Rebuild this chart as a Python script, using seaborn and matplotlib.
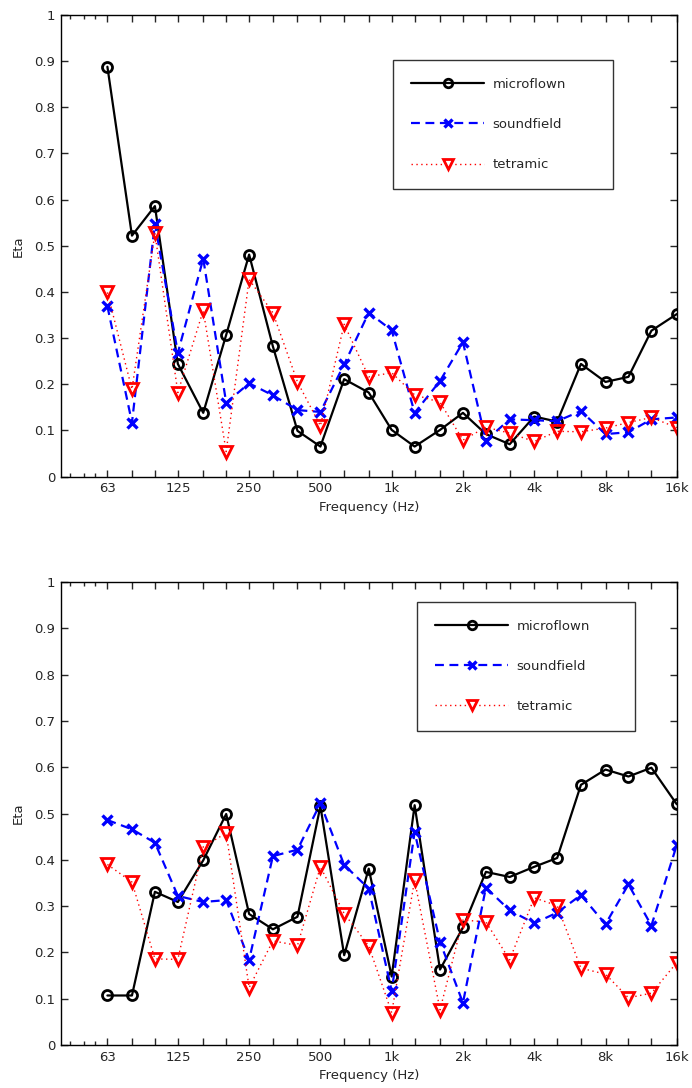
import numpy as np
import pandas as pd
import matplotlib
matplotlib.use("Agg")
import matplotlib.pyplot as plt
import seaborn as sns

# ---------------- data ----------------
freqs = [63, 80, 100, 125, 160, 200, 250, 315, 400, 500, 630, 800, 1000, 1250,
         1600, 2000, 2500, 3150, 4000, 5000, 6300, 8000, 10000, 12500, 16000]
tick_labels = ["63", "", "", "125", "", "", "250", "", "", "500", "", "", "1k", "",
               "", "2k", "", "", "4k", "", "", "8k", "", "", "16k"]
series_names = ["microflown", "soundfield", "tetramic"]

top_microflown = [0.888, 0.522, 0.586, 0.244, 0.138, 0.307, 0.481, 0.282, 0.099, 0.065,
                  0.211, 0.182, 0.101, 0.065, 0.101, 0.138, 0.092, 0.070, 0.130, 0.119,
                  0.244, 0.205, 0.216, 0.316, 0.352]
top_soundfield = [0.369, 0.117, 0.548, 0.268, 0.472, 0.160, 0.202, 0.176, 0.144, 0.140,
                  0.243, 0.355, 0.317, 0.138, 0.207, 0.291, 0.078, 0.124, 0.122, 0.120,
                  0.142, 0.092, 0.096, 0.124, 0.128]
top_tetramic = [0.399, 0.189, 0.527, 0.182, 0.360, 0.054, 0.427, 0.355, 0.205, 0.110,
                0.330, 0.216, 0.225, 0.177, 0.161, 0.079, 0.107, 0.094, 0.076, 0.098,
                0.097, 0.105, 0.117, 0.128, 0.106]

bot_microflown = [0.107, 0.107, 0.331, 0.309, 0.399, 0.499, 0.283, 0.250, 0.277, 0.516,
                  0.194, 0.381, 0.148, 0.518, 0.163, 0.254, 0.374, 0.363, 0.385, 0.404,
                  0.562, 0.595, 0.580, 0.599, 0.520]
bot_soundfield = [0.486, 0.466, 0.437, 0.322, 0.309, 0.313, 0.184, 0.408, 0.422, 0.522,
                  0.389, 0.338, 0.117, 0.460, 0.223, 0.091, 0.340, 0.291, 0.263, 0.286,
                  0.324, 0.261, 0.347, 0.258, 0.432]
bot_tetramic = [0.390, 0.352, 0.186, 0.185, 0.428, 0.458, 0.124, 0.225, 0.215, 0.385,
                0.284, 0.214, 0.070, 0.356, 0.076, 0.270, 0.266, 0.184, 0.318, 0.301,
                0.166, 0.153, 0.102, 0.112, 0.178]

# ---------------- style ----------------
sns.set_style("ticks")
plt.rcParams["font.family"] = ["DejaVu Sans"]
plt.rcParams["font.size"] = 9.5
plt.rcParams["axes.linewidth"] = 1.0
plt.rcParams["xtick.direction"] = "in"
plt.rcParams["ytick.direction"] = "in"

FS = 9.5

fig = plt.figure(figsize=(6.92, 10.88), dpi=100)
ax_top = fig.add_axes([0.0877, 0.562, 0.978 - 0.0877, 0.9862 - 0.562])
ax_bot = fig.add_axes([0.0877, 0.0395, 0.978 - 0.0877, 0.465 - 0.0395])

styles = [
    dict(color="black", linestyle="-", linewidth=1.6, marker="o", markersize=7.2,
         markerfacecolor="none", markeredgecolor="black", markeredgewidth=2.0),
    dict(color="#0000ff", linestyle=(0, (4.0, 2.5)), linewidth=1.6, marker="x", markersize=7.2,
         markeredgecolor="#0000ff", markeredgewidth=2.4),
    dict(color="#ff0000", linestyle=(0, (1, 2.5)), linewidth=1.0, marker="v", markersize=8.5,
         markerfacecolor="none", markeredgecolor="#ff0000", markeredgewidth=2.0),
]


def draw(ax, data_list, legend_box):
    for name, vals, st in zip(series_names, data_list, styles):
        df = pd.DataFrame({"freq": freqs, "eta": vals})
        sns.lineplot(data=df, x="freq", y="eta", ax=ax, label=name, sort=False,
                     estimator=None, **st)
    ax.set_xscale("log")
    ax.set_xlim(40, 16000)
    ax.set_ylim(0, 1)
    ax.set_xticks(freqs)
    ax.set_xticklabels(tick_labels)
    ax.set_xticks([44, 50, 56], minor=True)
    ax.set_xticklabels([], minor=True)
    ax.set_yticks(np.arange(0, 1.01, 0.1))
    ax.set_yticklabels(["0", "0.1", "0.2", "0.3", "0.4", "0.5", "0.6", "0.7", "0.8", "0.9", "1"])
    ax.tick_params(which="major", length=5, width=1, top=True, right=True, labelsize=FS, pad=4)
    ax.tick_params(which="minor", length=3, width=1, top=True, right=True)
    for s in ax.spines.values():
        s.set_visible(True)
        s.set_color("black")
    ax.set_xlabel("Frequency (Hz)", fontsize=FS, labelpad=4)
    ax.set_ylabel("Eta", fontsize=FS, labelpad=7)
    leg = ax.legend(loc="upper left", bbox_to_anchor=legend_box, mode="expand",
                    handlelength=5.6, handletextpad=0.62, labelspacing=2.05,
                    borderpad=1.35, borderaxespad=0, fancybox=False, fontsize=FS,
                    frameon=True, markerscale=0.85)
    leg.get_frame().set_edgecolor("black")
    leg.get_frame().set_linewidth(1.0)


draw(ax_top, [top_microflown, top_soundfield, top_tetramic], (0.539, 0.902, 0.357, 0.0))
draw(ax_bot, [bot_microflown, bot_soundfield, bot_tetramic], (0.578, 0.957, 0.355, 0.0))

fig.savefig("out.png", dpi=100)
